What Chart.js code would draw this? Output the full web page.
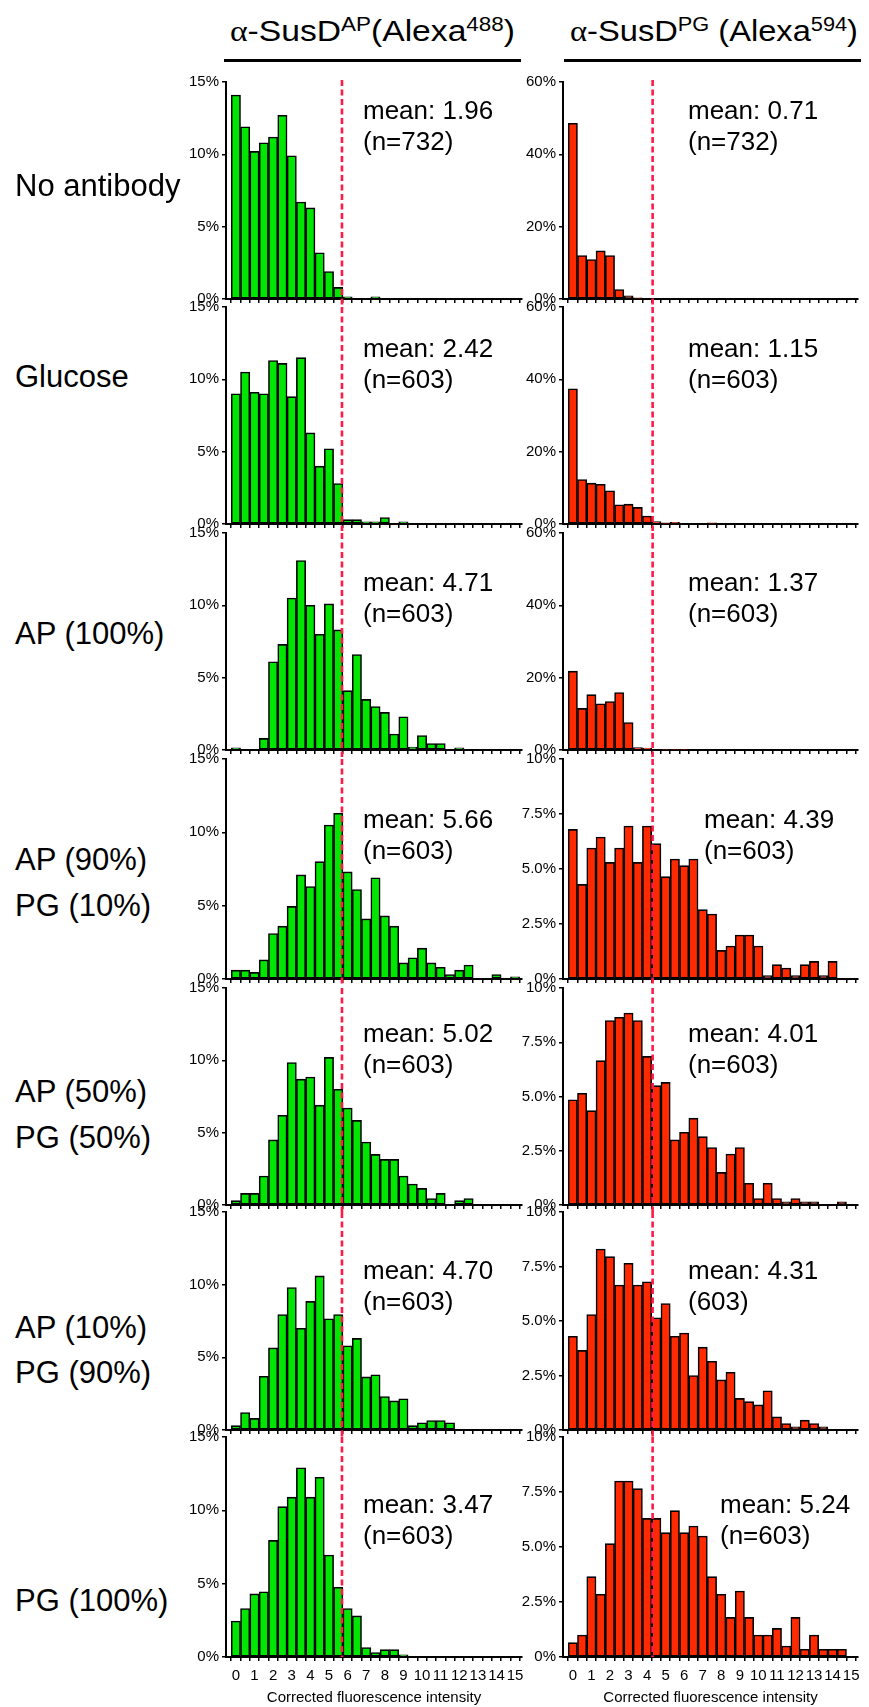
<!DOCTYPE html>
<html><head><meta charset="utf-8">
<script src="https://cdn.jsdelivr.net/npm/chart.js@4.4.1/dist/chart.umd.min.js"></script>
<style>
html,body{margin:0;padding:0;background:#fff;}
#wrap{position:relative;width:869px;height:1707px;overflow:hidden;font-family:'Liberation Sans',Arial,sans-serif;color:#000;background:#fff;}
canvas{position:absolute;}
.lbl{position:absolute;left:15px;font-size:31px;line-height:31px;white-space:nowrap;}
.mean{position:absolute;font-size:26px;line-height:31px;white-space:nowrap;}
.hdr{position:absolute;top:9px;font-size:30px;line-height:44px;white-space:nowrap;transform-origin:0 0;}
.alpha{font-family:'Liberation Serif','Times New Roman',serif;}
.sup{font-size:20px;vertical-align:10px;line-height:0;}
.rule{position:absolute;top:59px;height:3px;background:#000;}
</style></head>
<body>
<div id="wrap">
  <div class="hdr" id="hL"><span class="alpha">α</span>-SusD<span class="sup">AP</span>(Alexa<span class="sup">488</span>)</div>
  <div class="hdr" id="hR"><span class="alpha">α</span>-SusD<span class="sup">PG</span> (Alexa<span class="sup">594</span>)</div>
  <div class="rule" style="left:224px;width:297px;"></div>
  <div class="rule" style="left:564px;width:297px;"></div>
</div>
<script>
// ---------- data ----------
const bins = [0,0.5,1,1.5,2,2.5,3,3.5,4,4.5,5,5.5,6,6.5,7,7.5,8,8.5,9,9.5,10,10.5,11,11.5,12,12.5,13,13.5,14,14.5,15];
const xTickLabels = ['0','1','2','3','4','5','6','7','8','9','10','11','12','13','14','15'];

const rowLabels = [['No antibody'],['Glucose'],['AP (100%)'],['AP (90%)','PG (10%)'],['AP (50%)','PG (50%)'],['AP (10%)','PG (90%)'],['PG (100%)']];

// α-SusD AP (Alexa488) column, % of cells per bin
const apNoAntibody = [14.1,11.9,10.2,10.8,11.2,12.7,9.9,6.7,6.3,3.2,1.9,0.8,0.15,0,0,0.15,0,0,0,0,0,0,0,0,0,0,0,0,0,0,0];
const apGlucose    = [9.0,10.5,9.1,9.0,11.3,11.1,8.8,11.5,6.3,4.0,5.2,2.8,0.3,0.3,0.15,0.15,0.45,0,0.15,0,0,0,0,0,0,0,0,0,0,0,0];
const apAP100      = [0.15,0,0,0.8,6.1,7.3,10.5,13.1,10.0,8.0,10.1,8.3,4.1,6.6,3.5,3.0,2.6,1.1,2.3,0.2,1.0,0.45,0.45,0,0.15,0,0,0,0,0,0];
const apAP90PG10   = [0.6,0.6,0.45,1.3,3.1,3.6,4.95,7.1,6.3,8.0,10.5,11.3,7.3,6.1,4.1,6.9,4.3,3.6,1.1,1.45,2.1,1.1,0.8,0.3,0.6,0.95,0,0,0.3,0,0.15];
const apAP50PG50   = [0.3,0.8,0.8,2.0,4.5,6.2,9.85,8.7,8.85,6.9,10.2,8.0,6.7,5.85,4.35,3.5,3.15,3.15,2.0,1.45,1.15,0.45,0.8,0,0.3,0.45,0,0,0,0,0];
const apAP10PG90   = [0.3,1.2,0.8,3.7,5.65,7.95,9.8,7.0,8.85,10.6,7.65,7.95,5.8,6.3,3.65,3.8,2.3,2.0,2.15,0.3,0.5,0.65,0.65,0.5,0,0,0,0,0,0,0];
const apPG100      = [2.45,3.3,4.3,4.45,7.95,10.25,10.9,12.9,10.9,12.25,6.95,4.75,3.3,2.8,0.65,0.3,0.5,0.5,0.15,0,0,0,0,0,0,0,0,0,0,0,0];

// α-SusD PG (Alexa594) column
const pgNoAntibody = [48.6,12.0,10.9,13.3,12.0,2.6,0.9,0.3,0,0,0,0,0,0,0,0,0,0,0,0,0,0,0,0,0,0,0,0,0,0,0];
const pgGlucose    = [37.4,12.3,11.3,11.0,9.2,5.3,5.5,4.6,2.2,0.65,0.3,0.45,0,0,0,0.3,0,0,0,0,0,0,0,0,0,0,0,0,0,0,0];
const pgAP100      = [21.8,11.5,15.3,12.8,13.4,15.9,7.6,0.7,0.55,0,0.2,0.2,0.2,0,0,0,0,0,0,0,0,0,0,0,0,0,0,0,0,0,0];
const pgAP90PG10   = [6.8,4.3,5.95,6.45,5.3,5.95,6.95,5.3,6.95,6.15,4.65,5.45,5.15,5.45,3.15,2.95,1.3,1.5,2.0,2.0,1.5,0.15,0.65,0.5,0.15,0.65,0.8,0.15,0.8,0,0];
const pgAP50PG50   = [4.85,5.15,4.35,6.65,8.5,8.65,8.85,8.5,6.85,5.5,5.65,3.0,3.35,4.0,3.15,2.65,1.5,2.35,2.65,1.0,0.3,1.0,0.3,0.15,0.3,0.15,0.15,0,0,0.15,0];
const pgAP10PG90   = [4.3,3.65,5.3,8.3,7.95,6.65,7.65,6.65,6.8,5.15,5.8,4.3,4.45,2.5,3.8,3.15,2.3,2.65,1.45,1.3,1.15,1.8,0.6,0.3,0.15,0.45,0.3,0.15,0,0,0];
const pgPG100      = [0.65,1.0,3.65,2.85,5.15,8.0,8.0,7.65,6.3,6.3,5.65,6.65,5.65,5.95,5.5,3.65,2.85,1.8,3.0,1.8,1.0,1.0,1.3,0.5,1.8,0.35,1.0,0.35,0.35,0.35,0];

const apMeans = ['1.96','2.42','4.71','5.66','5.02','4.70','3.47'];
const apN     = ['(n=732)','(n=603)','(n=603)','(n=603)','(n=603)','(n=603)','(n=603)'];
const pgMeans = ['0.71','1.15','1.37','4.39','4.01','4.31','5.24'];
const pgN     = ['(n=732)','(n=603)','(n=603)','(n=603)','(n=603)','(603)','(n=603)'];

const apYMax  = [15,15,15,15,15,15,15];
const apYStep = [5,5,5,5,5,5,5];
const pgYMax  = [60,60,60,10,10,10,10];
const pgYStep = [20,20,20,2.5,2.5,2.5,2.5];

const apThreshold = 5.7;
const pgThreshold = 4.3;

const apSeries = [apNoAntibody,apGlucose,apAP100,apAP90PG10,apAP50PG50,apAP10PG90,apPG100];
const pgSeries = [pgNoAntibody,pgGlucose,pgAP100,pgAP90PG10,pgAP50PG50,pgAP10PG90,pgPG100];

// ---------- layout ----------
const plotTops    = [82, 307, 533, 759, 988, 1212, 1437];
const plotBottoms = [301, 526, 752, 981, 1207, 1432, 1657];
const meanBaselines = [119, 357, 591, 828, 1042, 1279, 1513];
const apMeanX = [363,363,363,363,363,363,363];
const pgMeanX = [688,688,688,704,688,688,720];
const labelBaselines = [[196],[387],[644],[870,916],[1102,1148],[1338,1383],[1611]];
const PAD_T = 12;
const FONT = "'Liberation Sans', Arial, sans-serif";

Chart.defaults.font.family = FONT;
Chart.defaults.color = '#000';

const wrap = document.getElementById('wrap');

const thresholdPlugin = {
  id: 'threshold',
  afterDatasetsDraw(chart, args, opts) {
    const {ctx, chartArea, scales} = chart;
    const px = scales.x.getPixelForValue(opts.value);
    ctx.save();
    ctx.strokeStyle = '#ff1a47';
    ctx.lineWidth = 2.6;
    ctx.setLineDash([6, 3.5]);
    ctx.beginPath();
    ctx.moveTo(px, chartArea.top - opts.extTop);
    ctx.lineTo(px, chartArea.bottom + opts.extBottom);
    ctx.stroke();
    ctx.restore();
  }
};

function makeChart(col, r) {
  const isLeft = col === 0;
  const vals = isLeft ? apSeries[r] : pgSeries[r];
  const isBottom = r === 6;
  const xH = isBottom ? 50 : 10;
  const top = plotTops[r] - PAD_T;
  const h = plotBottoms[r] - top + xH;
  const left = isLeft ? 176 : 507;
  const w = isLeft ? 356 : 361;
  const wy = isLeft ? 50 : 56;
  const ymax = isLeft ? apYMax[r] : pgYMax[r];
  const ystep = isLeft ? apYStep[r] : pgYStep[r];
  const cv = document.createElement('canvas');
  cv.width = w; cv.height = h;
  cv.style.left = left + 'px'; cv.style.top = top + 'px';
  cv.style.width = w + 'px'; cv.style.height = h + 'px';
  wrap.appendChild(cv);
  new Chart(cv, {
    type: 'bar',
    data: {
      datasets: [{
        data: bins.map((b, i) => ({x: b, y: vals[i]})),
        backgroundColor: isLeft ? '#00e600' : '#ff2a00',
        borderColor: '#000',
        borderWidth: 1.6,
        borderSkipped: false,
        barPercentage: 1,
        categoryPercentage: 1
      }]
    },
    options: {
      responsive: false,
      animation: false,
      devicePixelRatio: 1,
      layout: {padding: {top: PAD_T, right: 10, left: 0, bottom: 0}},
      plugins: {
        legend: {display: false},
        tooltip: {enabled: false},
        threshold: {value: isLeft ? apThreshold : pgThreshold, extTop: r === 0 ? 2 : 0, extBottom: isBottom ? 0 : 7}
      },
      scales: {
        x: {
          type: 'linear', min: -0.53, max: 15.37, offset: false,
          afterBuildTicks: s => { s.ticks = bins.map(v => ({value: v})); },
          afterFit: s => { s.height = xH; },
          grid: {drawOnChartArea: false, drawTicks: true, tickLength: 4, color: '#000', lineWidth: 1.5},
          border: {display: true, color: '#000', width: 2},
          ticks: {
            autoSkip: false, maxRotation: 0, minRotation: 0, padding: 6, color: '#000',
            font: {size: 15, family: FONT},
            callback: v => (isBottom && Number.isInteger(v)) ? xTickLabels[v] : ''
          },
          title: {display: isBottom, text: 'Corrected fluorescence intensity', color: '#000',
                  font: {size: 15, family: FONT}, padding: {top: 0, bottom: 0}}
        },
        y: {
          min: 0, max: ymax,
          afterFit: s => { s.width = wy; },
          grid: {drawOnChartArea: false, drawTicks: true, tickLength: 4, color: '#000', lineWidth: 1.5},
          border: {display: true, color: '#000', width: 2},
          ticks: {
            stepSize: ystep, padding: 3, color: '#000', font: {size: 15, family: FONT},
            callback: v => (ystep === 2.5 && v !== 0 && v !== 10) ? v.toFixed(1) + '%' : v + '%'
          }
        }
      }
    },
    plugins: [thresholdPlugin]
  });
}

for (let r = 0; r < 7; r++) {
  makeChart(0, r);
  makeChart(1, r);
  rowLabels[r].forEach((t, k) => {
    const d = document.createElement('div');
    d.className = 'lbl';
    d.textContent = t;
    d.style.top = (labelBaselines[r][k] - 26) + 'px';
    wrap.appendChild(d);
  });
  [[apMeanX[r], apMeans[r], apN[r]], [pgMeanX[r], pgMeans[r], pgN[r]]].forEach(([x, m, n]) => {
    const d = document.createElement('div');
    d.className = 'mean';
    d.innerHTML = 'mean: ' + m + '<br>' + n;
    d.style.left = x + 'px';
    d.style.top = (meanBaselines[r] - 24.5) + 'px';
    wrap.appendChild(d);
  });
}

function fitHeader(id, x0, x1) {
  const el = document.getElementById(id);
  el.style.left = x0 + 'px';
  const w = el.getBoundingClientRect().width;
  el.style.transform = 'scaleX(' + ((x1 - x0) / w) + ')';
}
fitHeader('hL', 230, 515);
fitHeader('hR', 570, 858);
</script>
</body></html>
